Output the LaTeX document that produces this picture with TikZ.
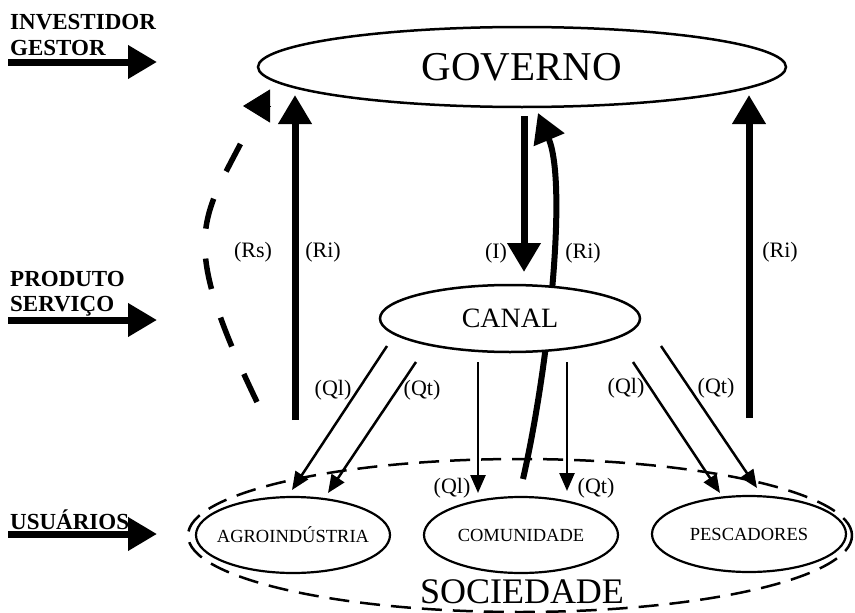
\documentclass[tikz,border=0pt]{standalone}
\usepackage{fontspec}
\setmainfont{Liberation Serif}
\usetikzlibrary{arrows.meta, shapes.geometric, positioning}
\tikzset{>=latex}
\tikzset{ent/.style = {draw, ellipse, line width=2.5pt, inner sep=0pt, fill=white}}
\tikzset{grupo/.style = {draw, ellipse, line width=2.2pt, inner xsep=-10pt, inner ysep=0pt, minimum width=194pt, minimum height=76pt, font=\fontsize{18.5}{18.5}\selectfont}}
\tikzset{soc/.style = {draw, ellipse, line width=2.5pt, dash pattern=on 20pt off 11pt, inner sep=0pt}}
\tikzset{heavy/.style = {line width=7pt, -{Triangle[length=29pt, width=32pt]}}}
\tikzset{fino/.style = {line width=2.5pt, -{Triangle[length=18pt, width=15pt]}}}
\tikzset{rsdash/.style = {line width=5.5pt, dash pattern=on 31pt off 30pt}}
\tikzset{nivel/.style = {anchor=base west, inner sep=0pt, font=\bfseries\fontsize{23}{23}\selectfont}}
\tikzset{rotulo/.style = {inner sep=0pt, font=\fontsize{22}{22}\selectfont}}

\begin{document}
\begin{tikzpicture}[x=1pt, y=-1pt]
  \useasboundingbox (0,0) rectangle (855,613);
  \coordinate (riCa) at (523,479);
  \coordinate (riCb) at (538,113);
  \draw[heavy, line width=6pt] (riCa) .. controls (548,370) and (568,185) .. (riCb);

  \path (522,67) node[ent, minimum width=528pt, minimum height=80pt, font=\fontsize{41}{41}\selectfont] (gov) {GOVERNO}
        (510,318.5) node[ent, minimum width=260pt, minimum height=67pt, font=\fontsize{28}{28}\selectfont] (canal) {CANAL}
        (520,535.5) node[soc, minimum width=664pt, minimum height=153pt] (soc) {}
        (293,535) node[grupo] (agro) {AGROINDÚSTRIA}
        (521,535) node[grupo] (comu) {COMUNIDADE}
        (749,534) node[grupo] (pesc) {PESCADORES}
        (522,603) node[anchor=base, inner sep=0pt, font=\fontsize{36}{36}\selectfont] (socnome) {SOCIEDADE};

  \path (10,30) node[nivel] (invest) {INVESTIDOR}
        (10,55) node[nivel] (gestor) {GESTOR}
        (10,286) node[nivel] (produto) {PRODUTO}
        (10,311) node[nivel] (servico) {SERVIÇO}
        (10,529) node[nivel] (usuarios) {USUÁRIOS};

  \path (253,252) node[rotulo] (lRs) {(Rs)}
        (323,252) node[rotulo] (lRi1) {(Ri)}
        (496,253) node[rotulo] (lI) {(I)}
        (583,253) node[rotulo] (lRi2) {(Ri)}
        (780,252) node[rotulo] (lRi3) {(Ri)}
        (333,390) node[rotulo] (lQl1) {(Ql)}
        (422,390) node[rotulo] (lQt1) {(Qt)}
        (452,488) node[rotulo] (lQl2) {(Ql)}
        (596,488) node[rotulo] (lQt2) {(Qt)}
        (626,388) node[rotulo] (lQl3) {(Ql)}
        (716,388) node[rotulo] (lQt3) {(Qt)};

  \coordinate (nivA1) at (8,62);    \coordinate (nivB1) at (157,62);
  \coordinate (nivA2) at (8,320);   \coordinate (nivB2) at (157,320);
  \coordinate (nivA3) at (8,534);   \coordinate (nivB3) at (157,534);
  \coordinate (riLa) at (295,420);  \coordinate (riLb) at (295,95);
  \coordinate (ia) at (524,116);    \coordinate (ib) at (524,272);
  \coordinate (riRa) at (749,418);  \coordinate (riRb) at (749,95);
  \coordinate (ag1a) at (387,346);  \coordinate (ag1b) at (292,490);
  \coordinate (ag2a) at (416,362);  \coordinate (ag2b) at (328,493);
  \coordinate (co1a) at (478,362);  \coordinate (co1b) at (478,493);
  \coordinate (co2a) at (567,362);  \coordinate (co2b) at (567,491);
  \coordinate (pe1a) at (633,362);  \coordinate (pe1b) at (720,493);
  \coordinate (pe2a) at (661,346);  \coordinate (pe2b) at (757,488);
  \coordinate (rsA) at (257,402);   \coordinate (rsB) at (242,141);
  \coordinate (rsC) at (271,106);   \coordinate (rsD) at (243,106);

  \foreach \i/\o in {nivA1/nivB1, nivA2/nivB2, nivA3/nivB3,
                     riLa/riLb, ia/ib, riRa/riRb}
  {
    \draw[heavy] (\i) -- (\o);
  }
  \foreach \i/\o in {ag1a/ag1b, ag2a/ag2b, co1a/co1b,
                     co2a/co2b, pe1a/pe1b, pe2a/pe2b}
  {
    \draw[fino] (\i) -- (\o);
  }
  \draw[rsdash] (rsA) .. controls (180,242) and (200,222) .. (rsB);
  \draw[line width=1pt, -{Triangle[length=27pt, width=33pt]}] (rsC) -- (rsD);
\end{tikzpicture}
\end{document}
